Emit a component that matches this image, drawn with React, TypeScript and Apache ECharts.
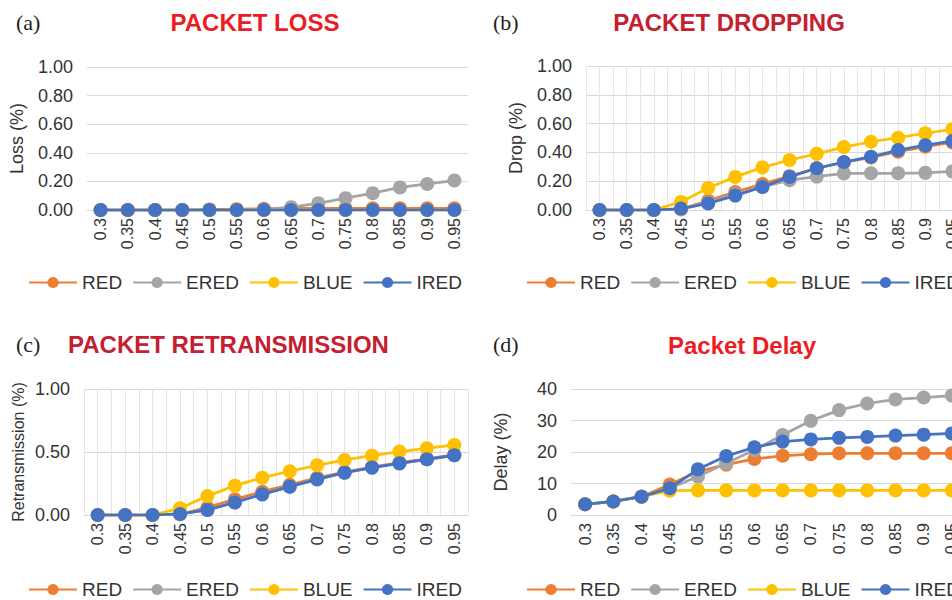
import React, { useEffect, useRef } from "react";
import * as echarts from "echarts";

const categories = ["0.3", "0.35", "0.4", "0.45", "0.5", "0.55", "0.6", "0.65", "0.7", "0.75", "0.8", "0.85", "0.9", "0.95"];
const seriesNames = ["RED", "ERED", "BLUE", "IRED"];
const seriesColors = ["#ED7D31", "#A5A5A5", "#FFC000", "#4472C4"];

// (a) Packet loss
const lossRED = [0, 0, 0, 0, 0.004, 0.006, 0.009, 0.011, 0.012, 0.012, 0.012, 0.012, 0.012, 0.012];
const lossERED = [0, 0, 0, 0, 0, 0, 0.004, 0.02, 0.047, 0.083, 0.118, 0.158, 0.182, 0.206];
const lossBLUE = [0, 0, 0, 0, 0, 0, 0, 0, 0, 0, 0, 0, 0, 0];
const lossIRED = [0, 0, 0, 0, 0, 0, 0, 0, 0, 0, 0, 0, 0, 0];

// (b) Packet dropping
const dropRED = [0, 0, 0, 0.005, 0.065, 0.125, 0.18, 0.235, 0.29, 0.33, 0.365, 0.405, 0.44, 0.47];
const dropERED = [0, 0, 0, 0.005, 0.05, 0.11, 0.16, 0.207, 0.232, 0.254, 0.255, 0.255, 0.258, 0.268];
const dropBLUE = [0, 0, 0, 0.056, 0.153, 0.23, 0.296, 0.347, 0.39, 0.437, 0.474, 0.502, 0.533, 0.56];
const dropIRED = [0, 0, 0, 0.01, 0.045, 0.1, 0.16, 0.23, 0.29, 0.333, 0.37, 0.416, 0.45, 0.479];

// (c) Packet retransmission
const retRED = [0, 0, 0, 0.006, 0.06, 0.125, 0.185, 0.24, 0.295, 0.34, 0.38, 0.415, 0.445, 0.48];
const retERED = [0, 0, 0, 0.008, 0.04, 0.1, 0.164, 0.225, 0.283, 0.336, 0.376, 0.41, 0.442, 0.474];
const retBLUE = [0, 0, 0, 0.053, 0.15, 0.233, 0.296, 0.347, 0.394, 0.437, 0.471, 0.503, 0.529, 0.556];
const retIRED = [0, 0, 0, 0.008, 0.04, 0.1, 0.164, 0.225, 0.283, 0.336, 0.376, 0.41, 0.442, 0.474];

// (d) Packet delay
const delayRED = [3.4, 4.3, 5.8, 9.7, 13.8, 16.0, 17.8, 18.8, 19.3, 19.6, 19.6, 19.6, 19.6, 19.6];
const delayERED = [3.4, 4.3, 5.9, 8.5, 12.2, 16.4, 20.6, 25.4, 29.9, 33.3, 35.4, 36.7, 37.3, 37.9];
const delayBLUE = [3.4, 4.3, 5.8, 7.7, 7.8, 7.8, 7.8, 7.8, 7.8, 7.8, 7.8, 7.8, 7.8, 7.8];
const delayIRED = [3.4, 4.3, 5.8, 8.5, 14.5, 18.7, 21.5, 23.3, 24.0, 24.5, 24.8, 25.2, 25.5, 25.9];

const panelTags = ["(a)", "(b)", "(c)", "(d)"];
const panelTitles = ["PACKET LOSS", "PACKET DROPPING", "PACKET RETRANSMISSION", "Packet Delay"];
const yNames = ["Loss (%)", "Drop (%)", "Retransmission (%)", "Delay (%)"];
const yMaxes = [1, 1, 1, 40];
const yIntervals = [0.2, 0.2, 0.5, 10];

const panelData = [
  [lossRED, lossERED, lossBLUE, lossIRED],
  [dropRED, dropERED, dropBLUE, dropIRED],
  [retRED, retERED, retBLUE, retIRED],
  [delayRED, delayERED, delayBLUE, delayIRED],
];

const layout = [
  { grid: { left: 87, top: 67, width: 381, height: 143 }, nameGap: 61, nameSize: 18, vgrid: false, legend: { left: 23, top: 268 }, tag: [16, 22], title: [255, 22, "center", "#EC1C24"] },
  { grid: { left: 586, top: 66, width: 380, height: 144 }, nameGap: 61, nameSize: 18, vgrid: true, legend: { left: 521, top: 268 }, tag: [493, 22], title: [729, 22, "center", "#C4202F"] },
  { grid: { left: 84, top: 389, width: 384, height: 126 }, nameGap: 58, nameSize: 16, vgrid: true, legend: { left: 23, top: 575 }, tag: [16, 344], title: [68, 344, "left", "#C4202F"] },
  { grid: { left: 571, top: 389, width: 395, height: 126 }, nameGap: 61, nameSize: 18, vgrid: false, legend: { left: 521, top: 575 }, tag: [493, 344], title: [742, 345, "center", "#EC1C24"] },
];

const SANS = "'Liberation Sans', Arial, sans-serif";
const SERIF = "'Liberation Serif', 'Times New Roman', serif";
const TEXT = "#333333";
const GRIDC = "#D9D9D9";

function buildOption() {
  const xAxis: any[] = [];
  const yAxis: any[] = [];
  const series: any[] = [];
  const legend: any[] = [];
  const graphic: any[] = [];

  layout.forEach((p, i) => {
    const xIndex = xAxis.length;
    xAxis.push({
      type: "category",
      gridIndex: i,
      data: categories,
      boundaryGap: true,
      axisTick: { show: false },
      axisLine: { show: true, lineStyle: { color: GRIDC, width: 1 } },
      axisLabel: { rotate: 90, interval: 0, margin: 8, fontSize: 16, color: TEXT, fontFamily: SANS },
      splitLine: { show: false },
    });
    if (p.vgrid) {
      xAxis.push({
        type: "value",
        gridIndex: i,
        min: 0,
        max: categories.length * 2,
        interval: 1,
        position: "bottom",
        axisLabel: { show: false },
        axisTick: { show: false },
        axisLine: { show: false },
        splitLine: { show: true, lineStyle: { color: "#E6E6E6", width: 1 } },
      });
    }
    const max = yMaxes[i];
    const interval = yIntervals[i];
    yAxis.push({
      type: "value",
      gridIndex: i,
      min: 0,
      max,
      interval,
      name: yNames[i],
      nameLocation: "middle",
      nameGap: p.nameGap,
      nameTextStyle: { fontSize: p.nameSize, color: TEXT, fontFamily: SANS },
      axisLine: { show: false },
      axisTick: { show: false },
      axisLabel: {
        fontSize: 18,
        color: TEXT,
        margin: 14,
        fontFamily: SANS,
        formatter: (v: number) => (max <= 1 ? v.toFixed(2) : String(v)),
      },
      splitLine: { show: true, lineStyle: { color: GRIDC, width: 1 } },
    });
    seriesNames.forEach((name, k) => {
      series.push({
        type: "line",
        name,
        xAxisIndex: xIndex,
        yAxisIndex: i,
        data: panelData[i][k],
        symbol: "circle",
        symbolSize: 14,
        showSymbol: true,
        lineStyle: { color: seriesColors[k], width: 2.75 },
        itemStyle: { color: seriesColors[k] },
        z: 2 + k,
        emphasis: { disabled: true },
      });
    });
    legend.push({
      left: p.legend.left,
      top: p.legend.top,
      width: 480,
      orient: "horizontal",
      itemWidth: 48,
      itemHeight: 14,
      itemGap: 10,
      data: seriesNames,
      selectedMode: false,
      textStyle: { fontSize: 19, color: TEXT, fontFamily: SANS },
    });
    graphic.push({
      type: "text",
      x: p.tag[0],
      y: p.tag[1],
      style: { text: panelTags[i], font: `22px ${SERIF}`, fill: "#231F20", textAlign: "left", textVerticalAlign: "middle" },
    });
    graphic.push({
      type: "text",
      x: p.title[0] as number,
      y: p.title[1] as number,
      style: {
        text: panelTitles[i],
        font: `bold 24px ${SANS}`,
        fill: p.title[3] as string,
        textAlign: p.title[2] as string,
        textVerticalAlign: "middle",
      },
    });
  });

  return {
    animation: false,
    backgroundColor: "#ffffff",
    grid: layout.map((p) => ({ ...p.grid, containLabel: false })),
    xAxis,
    yAxis,
    series,
    legend,
    graphic,
  };
}

export default function App() {
  const ref = useRef<HTMLDivElement>(null);
  useEffect(() => {
    if (!ref.current) return;
    const chart = echarts.init(ref.current, undefined, { renderer: "svg" });
    chart.setOption(buildOption() as any);
    return () => chart.dispose();
  }, []);
  return (
    <div style={{ position: "absolute", left: 0, top: 0, width: 952, height: 600, overflow: "hidden", background: "#fff" }}>
      <div ref={ref} style={{ width: 990, height: 600 }} />
    </div>
  );
}
